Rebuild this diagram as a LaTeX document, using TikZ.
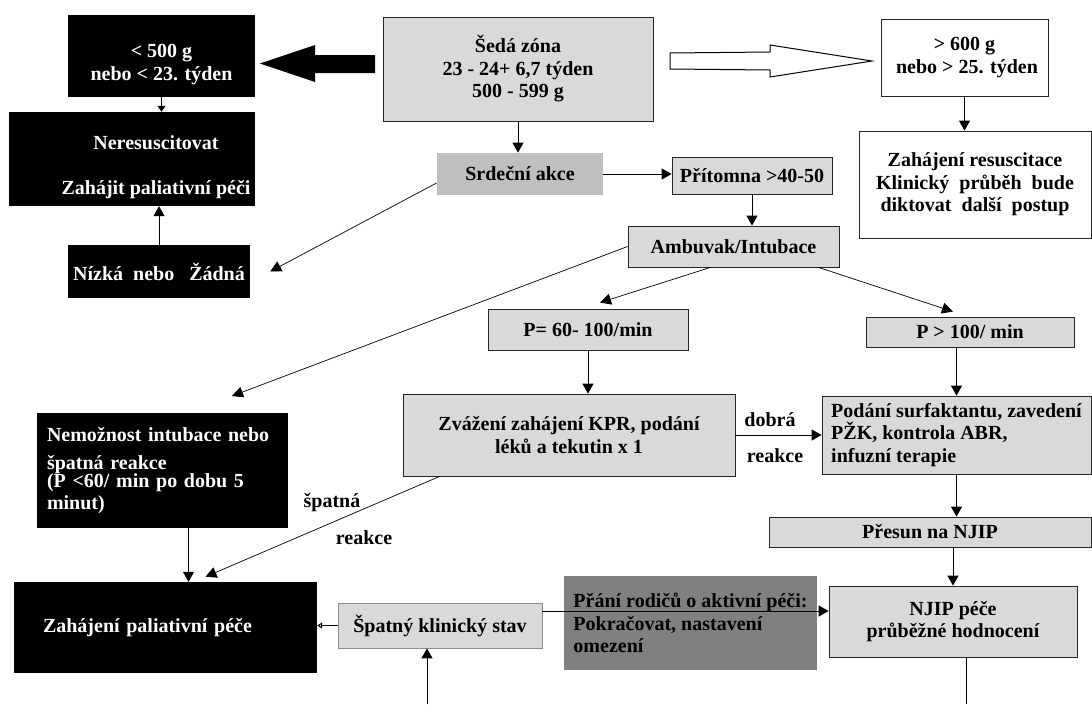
\documentclass[tikz,border=0pt]{standalone}
\usepackage{fontspec}
\setmainfont{Liberation Serif}
\usepackage{tikz}
\usetikzlibrary{arrows.meta}
\tikzstyle{graybox}=[rectangle,draw=black!85,fill=black!15,line width=0.8pt,inner sep=0pt,align=center]
\tikzstyle{blackbox}=[rectangle,fill=black,text=white,inner sep=0pt,align=center]
\tikzstyle{whitebox}=[rectangle,draw=black!85,fill=white,line width=0.8pt,inner sep=0pt,align=center]
\tikzstyle{edge} = [draw,line width=1pt,-]

\begin{document}
\begin{tikzpicture}
		[x=1pt,y=-1pt,font=\fontsize{20}{22.5}\selectfont\bfseries,
		edge/.style = {draw,line width=1pt,->,> = {Triangle[length=10pt,width=11pt]}},
		thinedge/.style = {draw,line width=0.7pt,->,> = {Triangle[length=11pt,width=11pt]}},
		remark/.style = {inner sep=0pt}]
		\useasboundingbox[fill=white] (0,0) rectangle (1092,704);
		
		% left column
		\node[blackbox,minimum width=187pt,minimum height=82pt] (lt500) at (161.5,56) {\rule{0pt}{30pt}< 500 g\\nebo < 23. týden};
		\node[blackbox,minimum width=246pt,minimum height=94pt] (neres) at (132,159) {\rule{0pt}{30pt}\hspace*{48pt}Neresuscitovat\\[23pt]\hspace*{48pt}Zahájit paliativní péči};
		\node[blackbox,minimum width=182pt,minimum height=53pt] (nizka) at (159,271.5) {Nízká~~nebo~~~Žádná};
		\node[blackbox,align=left,inner xsep=10pt,text width=231pt,minimum height=115pt] (nemoz) at (162.5,470.5) {Nemožnost intubace nebo\\[5.5pt]špatná reakce\\[-4.5pt](P <60/ min po dobu 5\\minut)};
		\node[blackbox,align=left,inner xsep=29pt,text width=245pt,minimum height=91pt] (palia) at (165.5,627.5) {Zahájení paliativní péče};
		
		% middle
		\node[graybox,minimum width=270pt,minimum height=104pt] (seda) at (518,69) {Šedá zóna\\23 - 24+ 6,7 týden\\500 - 599 g};
		\node[graybox,draw=none,fill=black!25,minimum width=166pt,minimum height=42pt] (srdce) at (520,174) {Srdeční akce};
		\node[graybox,minimum width=160pt,minimum height=37pt] (pritomna) at (752,175.5) {Přítomna >40-50};
		\node[graybox,minimum width=211pt,minimum height=41pt] (ambu) at (733.5,246.5) {Ambuvak/Intubace};
		\node[graybox,minimum width=200pt,minimum height=41pt] (p60) at (588,329.5) {P= 60- 100/min};
		\node[graybox,minimum width=332pt,minimum height=82pt] (zvaz) at (569,435) {Zvážení zahájení KPR, podání\\léků a tekutin x 1};
		\node[graybox,draw=black!45,minimum width=204pt,minimum height=45pt] (spatny) at (440,625.5) {Špatný klinický stav};
		\node[graybox,draw=none,fill=black!50,align=left,minimum width=253pt,minimum height=94pt] (prani) at (690.5,623) {Přání rodičů o aktivní péči:\\Pokračovat, nastavení\\omezení};
		
		% right column
		\node[whitebox,minimum width=167pt,minimum height=77pt] (gt600) at (964.5,57.5) {> 600 g\\~nebo > 25. týden};
		\node[whitebox,minimum width=232pt,minimum height=107pt] (zahres) at (975,184.5) {Zahájení resuscitace\\Klinický~~průběh~~bude\\diktovat~~další~~postup};
		\node[graybox,minimum width=208pt,minimum height=30pt] (p100) at (970,332) {P > 100/ min};
		\node[graybox,align=left,minimum width=269pt,minimum height=78pt] (podani) at (956.5,435) {Podání surfaktantu, zavedení\\PŽK, kontrola ABR,\\infuzní terapie};
		\node[graybox,minimum width=322pt,minimum height=30pt] (presun) at (930,532) {Přesun na NJIP};
		\node[graybox,minimum width=248pt,minimum height=71pt] (njip) at (953,621.5) {NJIP péče\\průběžné hodnocení};
		
		% labels
		\node[remark] (dobra) at (770,420) {dobrá};
		\node[remark] (dreakce) at (775,456) {reakce};
		\node[remark] (spatna) at (332,503) {špatná};
		\node[remark] (sreakce) at (364,538) {reakce};
		
		% big arrows
		\fill (375,55) -- (315,55) -- (315,45) -- (260,63.5) -- (315,82) -- (315,73) -- (375,73) -- cycle;
		\draw[line width=1pt] (670,53) -- (770,52) -- (770,45) -- (872,61) -- (770,77) -- (770,70) -- (670,69) -- cycle;
		
		\coordinate (nemozin) at (232,396);
		\coordinate (nemozout) at ([xshift=26pt]nemoz.south);
		\coordinate (spatnyr) at ([yshift=14.5pt]spatny.east);
		\coordinate (spatnyin) at (427,704);
		\coordinate (njipout) at (966,704);
		
		\draw[edge,> = {Triangle[length=6pt,width=8pt]}] (lt500.south) -- (lt500.south |- neres.north);
		\draw[edge] (nizka.north) -- (nizka.north |- neres.south);
		\draw[edge] (seda.south) -- (seda.south |- srdce.north);
		\draw[edge] (srdce.east) -- (srdce.east -| pritomna.west);
		\draw[edge] (pritomna.south) -- (pritomna.south |- ambu.north);
		\draw[edge] (gt600.south) -- (gt600.south |- zahres.north);
		\draw[thinedge] ([yshift=-9pt]srdce.west) -- ([xshift=20pt]nizka.east);
		\draw[thinedge] (ambu.west) -- (nemozin);
		\draw[thinedge] ([xshift=-23pt]ambu.south) -- ([xshift=12pt,yshift=6pt]p60.north);
		\draw[thinedge] ([xshift=-21pt]ambu.south east) -- ([xshift=-17pt,yshift=5pt]p100.north);
		\draw[edge] (p60.south) -- (p60.south |- zvaz.north);
		\draw[edge] (zvaz.east) -- (podani.west);
		\draw[thinedge] ([xshift=37pt]zvaz.south west) -- ([xshift=40pt,yshift=5pt]palia.north);
		\draw[edge] (nemozout) -- (nemozout |- palia.north);
		\draw[edge] (p100.south -| podani.north) -- (podani.north);
		\draw[edge] (podani.south) -- (podani.south |- presun.north);
		\draw[edge] (presun.south -| njip.north) -- (njip.north);
		\draw[line width=1pt] (njipout |- njip.south) -- (njipout);
		\draw[edge] (spatnyr) -- (spatnyr -| njip.west);
		\draw[edge,> = {Triangle[open,length=5pt,width=6pt]}] (spatny.west) -- (spatny.west -| palia.east);
		\draw[edge] (spatnyin) -- (spatnyin |- spatny.south);
		
		\end{tikzpicture}
\end{document}
